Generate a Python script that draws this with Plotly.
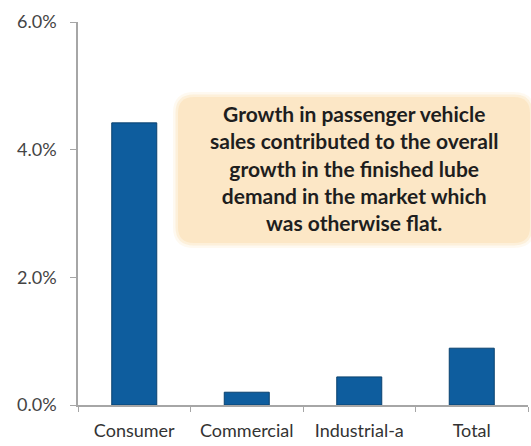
import plotly.graph_objects as go

# Lube demand growth by segment (share, 0.01 = 1%)
categories = ["Consumer", "Commercial", "Industrial-a", "Total"]
growth = [0.0442, 0.0020, 0.0044, 0.0089]
y_ticks = [0.0, 0.02, 0.04, 0.06]

note_lines = [
    "Growth in passenger vehicle",
    "sales contributed to the overall",
    "growth in the finished lube",
    "demand in the market which",
    "was otherwise flat.",
]

W, H = 531, 446
ML, MR, MT, MB = 78, 3, 22, 41
PW, PH = W - ML - MR, H - MT - MB

fig = go.Figure(
    go.Bar(
        x=categories,
        y=growth,
        width=0.4,
        marker=dict(color="#0E5D9E", line=dict(color="#0A426F", width=1)),
        hoverinfo="skip",
    )
)


def px_x(v):
    return (v - ML) / PW


def px_y(v):
    return (H - MB - v) / PH


def rounded_rect(x0, y0, x1, y1, r):
    # rounded rectangle path in paper coordinates from pixel corners
    rx, ry = r / PW, r / PH
    a, b, c, d = px_x(x0), px_y(y1), px_x(x1), px_y(y0)
    return (
        f"M{a+rx},{b} L{c-rx},{b} Q{c},{b} {c},{b+ry} "
        f"L{c},{d-ry} Q{c},{d} {c-rx},{d} "
        f"L{a+rx},{d} Q{a},{d} {a},{d-ry} "
        f"L{a},{b+ry} Q{a},{b} {a+rx},{b} Z"
    )


shapes = []
# soft halo then the callout panel
for grow, op in [(5, 0.25), (2.5, 0.5)]:
    shapes.append(dict(
        type="path", xref="paper", yref="paper", layer="above",
        path=rounded_rect(178 - grow, 97 - grow, 530 + grow, 243 + grow, 16 + grow),
        fillcolor="#FBE7C4", opacity=op, line=dict(width=0),
    ))
shapes.append(dict(
    type="path", xref="paper", yref="paper", layer="above",
    path=rounded_rect(178, 97, 530, 243, 16),
    fillcolor="#FCE7C6", line=dict(width=0),
))

fig.update_layout(
    width=W, height=H,
    margin=dict(l=ML, r=MR, t=MT, b=MB, autoexpand=False),
    paper_bgcolor="white", plot_bgcolor="white",
    showlegend=False,
    font=dict(family="Lato, Calibri, sans-serif", color="#333333"),
    shapes=shapes,
    annotations=[dict(
        xref="paper", yref="paper",
        x=px_x(354), y=px_y(168),
        xanchor="center", yanchor="middle",
        text="<br>".join(note_lines),
        showarrow=False, align="center",
        font=dict(family="Lato, Calibri, sans-serif", size=21, color="#1E1E1E", weight="bold"),
    )],
    xaxis=dict(
        type="category",
        showline=True, linecolor="#A6A6A6", linewidth=1.5,
        ticks="outside", tickson="boundaries", ticklen=5, tickcolor="#A6A6A6",
        showgrid=False, zeroline=False,
        tickangle=0, automargin=False,
        tickfont=dict(size=18, color="#333333"),
        ticklabelstandoff=9,
    ),
    yaxis=dict(
        range=[0, 0.06],
        tickvals=y_ticks, tickformat=".1%",
        showline=True, linecolor="#A6A6A6", linewidth=1.5,
        ticks="outside", ticklen=6, tickcolor="#A6A6A6",
        showgrid=False, zeroline=False, automargin=False,
        tickfont=dict(size=18, color="#444444"),
        ticklabelstandoff=10,
    ),
)

fig.write_html("out.html")
